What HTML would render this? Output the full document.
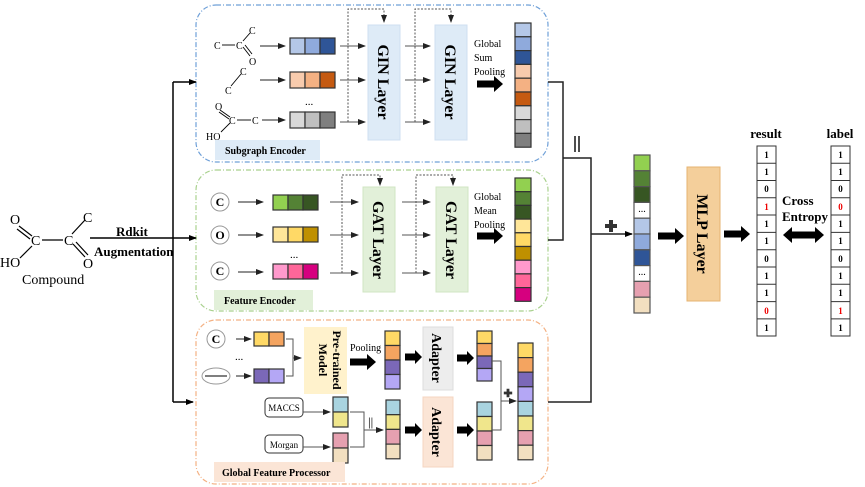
<!DOCTYPE html>
<html><head><meta charset="utf-8"><style>html,body{margin:0;padding:0;background:#fff}svg{display:block}text{font-family:"Liberation Serif",serif}</style></head><body>
<svg width="865" height="487" viewBox="0 0 865 487" xmlns="http://www.w3.org/2000/svg">
<defs>
<marker id="a" markerWidth="8" markerHeight="6" refX="7" refY="3" orient="auto" markerUnits="userSpaceOnUse"><path d="M0,0 L8,3 L0,6 z" fill="#000"/></marker>
<marker id="ag" markerWidth="8" markerHeight="6" refX="7" refY="3" orient="auto" markerUnits="userSpaceOnUse"><path d="M0,0 L8,3 L0,6 z" fill="#222"/></marker>
<g id="big"><path d="M0,-3.5 L17,-3.5 L17,-8 L26,0 L17,8 L17,3.5 L0,3.5 z" fill="#000"/></g>
<g id="mid"><path d="M0,-3.5 L10,-3.5 L10,-7 L17,0 L10,7 L10,3.5 L0,3.5 z" fill="#000"/></g>
<g id="plus"><path d="M-2,-6 H2 V-2 H6 V2 H2 V6 H-2 V2 H-6 V-2 H-2 z" fill="#333"/></g>
</defs>

<rect x="196" y="5" width="352" height="157" rx="20" fill="none" stroke="#6fa0d8" stroke-width="1.2" stroke-dasharray="5,2,1,2"/>
<rect x="196" y="170" width="352" height="141" rx="20" fill="none" stroke="#a9d18e" stroke-width="1.2" stroke-dasharray="5,2,1,2"/>
<rect x="196" y="320" width="352" height="164" rx="20" fill="none" stroke="#f4b183" stroke-width="1.2" stroke-dasharray="5,2,1,2"/>

<g font-size="14" fill="#000">
<text x="10" y="224">O</text><text x="31" y="245">C</text><text x="64" y="245">C</text>
<text x="83" y="222">C</text><text x="83" y="268">O</text><text x="0" y="267">HO</text>
<text x="22" y="284" font-size="14">Compound</text>
</g>
<g stroke="#000" stroke-width="1.2">
<line x1="19" y1="226" x2="32" y2="236"/><line x1="17" y1="229" x2="30" y2="239"/>
<line x1="42" y1="240" x2="63" y2="240"/><line x1="72" y1="234" x2="85" y2="220"/>
<line x1="73" y1="244" x2="85" y2="257"/><line x1="76" y1="242" x2="88" y2="255"/>
<line x1="20" y1="258" x2="32" y2="246"/>
</g>
<line x1="90" y1="238" x2="173" y2="238" stroke="#000" stroke-width="1.5"/>
<text x="116" y="236" font-size="13" font-weight="bold">Rdkit</text>
<text x="94" y="256" font-size="13" font-weight="bold">Augmentation</text>
<line x1="173" y1="82" x2="173" y2="402" stroke="#000" stroke-width="1.5"/>
<g stroke="#000" stroke-width="1.5" marker-end="url(#a)">
<line x1="173" y1="82" x2="196" y2="82"/><line x1="173" y1="238" x2="196" y2="238"/><line x1="173" y1="402" x2="193" y2="402"/>
</g>

<g font-size="10">
<text x="214" y="49">C</text><text x="236" y="49">C</text><text x="249" y="34">C</text><text x="249" y="65">O</text>
<text x="240" y="75">C</text><text x="225" y="94">C</text>
<text x="215" y="110">O</text><text x="229" y="124">C</text><text x="252" y="124">C</text><text x="206" y="140">HO</text>
</g>
<g stroke="#000" stroke-width="0.9">
<line x1="222" y1="45" x2="235" y2="45"/><line x1="243" y1="41" x2="250" y2="33"/><line x1="243" y1="47" x2="250" y2="56"/><line x1="245" y1="45" x2="252" y2="54"/>
<line x1="231" y1="86" x2="241" y2="74"/>
<line x1="220" y1="110" x2="230" y2="117"/><line x1="219" y1="112" x2="229" y2="119"/><line x1="237" y1="120" x2="251" y2="120"/><line x1="221" y1="132" x2="230" y2="123"/>
</g>
<g stroke="#222" stroke-width="1" marker-end="url(#ag)">
<line x1="260" y1="46" x2="285" y2="46"/><line x1="260" y1="80" x2="285" y2="80"/><line x1="262" y1="120" x2="285" y2="120"/>
</g>
<g stroke="#333" stroke-width="1.2">
<rect x="290" y="38" width="15" height="16" fill="#b4c7e7"/><rect x="305" y="38" width="15" height="16" fill="#8faadc"/><rect x="320" y="38" width="15" height="16" fill="#2f5597"/>
<rect x="290" y="72" width="15" height="16" fill="#f8cbad"/><rect x="305" y="72" width="15" height="16" fill="#f4b183"/><rect x="320" y="72" width="15" height="16" fill="#c55a11"/>
<rect x="290" y="112" width="15" height="16" fill="#d9d9d9"/><rect x="305" y="112" width="15" height="16" fill="#bfbfbf"/><rect x="320" y="112" width="15" height="16" fill="#7f7f7f"/>
</g>
<text x="305" y="105" font-size="11">...</text>
<g stroke="#555" stroke-width="1" marker-end="url(#ag)">
<line x1="340" y1="46" x2="365" y2="46"/><line x1="340" y1="80" x2="365" y2="80"/><line x1="340" y1="122" x2="365" y2="122"/>
<line x1="405" y1="46" x2="430" y2="46"/><line x1="405" y1="80" x2="430" y2="80"/><line x1="405" y1="122" x2="430" y2="122"/>
</g>
<g fill="none" stroke="#555" stroke-width="1" stroke-dasharray="2,1.5">
<path d="M348,122 L348,9 L384,9 L384,22" marker-end="url(#ag)"/>
<path d="M415,122 L415,9 L451,9 L451,22" marker-end="url(#ag)"/>
</g>
<rect x="368" y="25" width="32" height="115" fill="#deebf7" stroke="#cfdff0"/>
<rect x="435" y="25" width="32" height="115" fill="#deebf7" stroke="#cfdff0"/>
<text transform="translate(378,82) rotate(90)" text-anchor="middle" font-size="16" font-weight="bold">GIN Layer</text>
<text transform="translate(445,82) rotate(90)" text-anchor="middle" font-size="16" font-weight="bold">GIN Layer</text>
<g font-size="10"><text x="474" y="47">Global</text><text x="474" y="61">Sum</text><text x="474" y="75">Pooling</text></g>
<use href="#big" x="477" y="84"/>
<g stroke="#333" stroke-width="1.2">
<rect x="515" y="23" width="16" height="13.8" fill="#b4c7e7"/><rect x="515" y="36.8" width="16" height="13.8" fill="#8faadc"/><rect x="515" y="50.6" width="16" height="13.8" fill="#2f5597"/>
<rect x="515" y="64.4" width="16" height="13.8" fill="#f8cbad"/><rect x="515" y="78.2" width="16" height="13.8" fill="#f4b183"/><rect x="515" y="92" width="16" height="13.8" fill="#c55a11"/>
<rect x="515" y="105.8" width="16" height="13.8" fill="#d9d9d9"/><rect x="515" y="119.6" width="16" height="13.8" fill="#bfbfbf"/><rect x="515" y="133.4" width="16" height="13.8" fill="#7f7f7f"/>
</g>
<rect x="215" y="140" width="105" height="20" fill="#deebf7"/>
<text x="225" y="154" font-size="10" font-weight="bold">Subgraph Encoder</text>

<g fill="#fff" stroke="#999" stroke-width="1"><circle cx="220" cy="202" r="9"/><circle cx="220" cy="235" r="9"/><circle cx="220" cy="271" r="9"/></g>
<g font-size="12" font-weight="bold" text-anchor="middle"><text x="220" y="206">C</text><text x="220" y="239">O</text><text x="220" y="275">C</text></g>
<g stroke="#222" stroke-width="1" marker-end="url(#ag)">
<line x1="238" y1="202" x2="263" y2="202"/><line x1="238" y1="235" x2="263" y2="235"/><line x1="238" y1="272" x2="263" y2="272"/>
</g>
<g stroke="#333" stroke-width="1.2">
<rect x="273" y="195" width="15" height="15" fill="#92d050"/><rect x="288" y="195" width="15" height="15" fill="#548235"/><rect x="303" y="195" width="15" height="15" fill="#375623"/>
<rect x="273" y="227" width="15" height="15" fill="#ffe699"/><rect x="288" y="227" width="15" height="15" fill="#ffd966"/><rect x="303" y="227" width="15" height="15" fill="#bf9000"/>
<rect x="273" y="264" width="15" height="15" fill="#ff99cc"/><rect x="288" y="264" width="15" height="15" fill="#ff6699"/><rect x="303" y="264" width="15" height="15" fill="#d6007f"/>
</g>
<text x="290" y="258" font-size="11">...</text>
<g stroke="#555" stroke-width="1" marker-end="url(#ag)">
<line x1="330" y1="202" x2="358" y2="202"/><line x1="330" y1="235" x2="358" y2="235"/><line x1="330" y1="273" x2="358" y2="273"/>
<line x1="402" y1="202" x2="430" y2="202"/><line x1="402" y1="235" x2="430" y2="235"/><line x1="402" y1="273" x2="430" y2="273"/>
</g>
<g fill="none" stroke="#555" stroke-width="1" stroke-dasharray="2,1.5">
<path d="M342,273 L342,175 L380,175 L380,185" marker-end="url(#ag)"/>
<path d="M416,273 L416,175 L453,175 L453,185" marker-end="url(#ag)"/>
</g>
<rect x="363" y="187" width="32" height="105" fill="#e2f0d9" stroke="#d0e6c3"/>
<rect x="436" y="187" width="32" height="105" fill="#e2f0d9" stroke="#d0e6c3"/>
<text transform="translate(373,240) rotate(90)" text-anchor="middle" font-size="16" font-weight="bold">GAT Layer</text>
<text transform="translate(446,240) rotate(90)" text-anchor="middle" font-size="16" font-weight="bold">GAT Layer</text>
<g font-size="10"><text x="474" y="200">Global</text><text x="474" y="214">Mean</text><text x="474" y="228">Pooling</text></g>
<use href="#big" x="477" y="236"/>
<g stroke="#333" stroke-width="1.2">
<rect x="515" y="178" width="16" height="13.7" fill="#92d050"/><rect x="515" y="191.7" width="16" height="13.7" fill="#548235"/><rect x="515" y="205.4" width="16" height="13.7" fill="#375623"/>
<rect x="515" y="219.1" width="16" height="13.7" fill="#ffe699"/><rect x="515" y="232.8" width="16" height="13.7" fill="#ffd966"/><rect x="515" y="246.5" width="16" height="13.7" fill="#bf9000"/>
<rect x="515" y="260.2" width="16" height="13.7" fill="#ff99cc"/><rect x="515" y="273.9" width="16" height="13.7" fill="#ff6699"/><rect x="515" y="287.6" width="16" height="13.7" fill="#d6007f"/>
</g>
<rect x="214" y="290" width="99" height="20" fill="#e2f0d9"/>
<text x="224" y="304" font-size="10" font-weight="bold">Feature Encoder</text>

<circle cx="216" cy="339" r="9" fill="#fff" stroke="#999"/>
<text x="216" y="343" font-size="12" font-weight="bold" text-anchor="middle">C</text>
<ellipse cx="216" cy="376" rx="14" ry="8" fill="#fff" stroke="#999"/>
<line x1="205" y1="376" x2="227" y2="376" stroke="#333" stroke-width="1.2"/>
<text x="235" y="360" font-size="11">...</text>
<g stroke="#222" stroke-width="1" marker-end="url(#ag)">
<line x1="236" y1="339" x2="251" y2="339"/><line x1="236" y1="376" x2="251" y2="376"/>
</g>
<g stroke="#333" stroke-width="1.2">
<rect x="254" y="332" width="15" height="14" fill="#ffd966"/><rect x="269" y="332" width="15" height="14" fill="#f4a460"/>
<rect x="254" y="369" width="15" height="14" fill="#7b68b8"/><rect x="269" y="369" width="15" height="14" fill="#b4a7f5"/>
</g>
<path d="M286,339 L293,339 L293,376 L286,376" fill="none" stroke="#555"/>
<line x1="293" y1="358" x2="301" y2="358" stroke="#555" marker-end="url(#ag)"/>
<rect x="304" y="327" width="43" height="67" fill="#fff2cc"/>
<text transform="translate(333,360) rotate(90)" text-anchor="middle" font-size="12" font-weight="bold">Pre-trained</text>
<text transform="translate(319,360) rotate(90)" text-anchor="middle" font-size="12" font-weight="bold">Model</text>
<text x="350" y="351" font-size="10">Pooling</text>
<use href="#big" x="350" y="362"/>
<g stroke="#333" stroke-width="1.2">
<rect x="385" y="331" width="15" height="14.5" fill="#ffd966"/><rect x="385" y="345.5" width="15" height="14.5" fill="#f4a460"/><rect x="385" y="360" width="15" height="14.5" fill="#7b68b8"/><rect x="385" y="374.5" width="15" height="14.5" fill="#b4a7f5"/>
</g>
<use href="#mid" x="405" y="357"/>
<rect x="423" y="327" width="30" height="63" fill="#ededed" stroke="#ddd"/>
<text transform="translate(432,358) rotate(90)" text-anchor="middle" font-size="14" font-weight="bold">Adapter</text>
<use href="#mid" x="457" y="358"/>
<g stroke="#333" stroke-width="1.2">
<rect x="477" y="331" width="15" height="12.5" fill="#ffd966"/><rect x="477" y="343.5" width="15" height="12.5" fill="#f4a460"/><rect x="477" y="356" width="15" height="12.5" fill="#7b68b8"/><rect x="477" y="368.5" width="15" height="12.5" fill="#b4a7f5"/>
</g>
<rect x="265" y="398" width="38" height="19" rx="4" fill="#fff" stroke="#333"/>
<text x="284" y="411" font-size="9" text-anchor="middle">MACCS</text>
<rect x="265" y="435" width="38" height="18" rx="4" fill="#fff" stroke="#333"/>
<text x="284" y="448" font-size="9" text-anchor="middle">Morgan</text>
<g stroke="#555" stroke-width="1" marker-end="url(#ag)">
<line x1="303" y1="412" x2="330" y2="412"/><line x1="303" y1="447" x2="330" y2="447"/>
</g>
<g stroke="#333" stroke-width="1.2">
<rect x="333" y="397" width="15" height="15" fill="#a9d4e0"/><rect x="333" y="412" width="15" height="15" fill="#f0e68c"/>
<rect x="333" y="433" width="15" height="15" fill="#e6a0b0"/><rect x="333" y="448" width="15" height="15" fill="#f2dfc0"/>
</g>
<path d="M350,412 L364,412 L364,447 L350,447" fill="none" stroke="#555"/>
<line x1="364" y1="430" x2="383" y2="430" stroke="#555" marker-end="url(#ag)"/>
<text x="368" y="426" font-size="13">||</text>
<g stroke="#333" stroke-width="1.2">
<rect x="386" y="400" width="14" height="14.7" fill="#a9d4e0"/><rect x="386" y="414.7" width="14" height="14.7" fill="#f0e68c"/><rect x="386" y="429.4" width="14" height="14.7" fill="#e6a0b0"/><rect x="386" y="444.1" width="14" height="14.7" fill="#f2dfc0"/>
</g>
<use href="#mid" x="405" y="430"/>
<rect x="423" y="397" width="30" height="70" fill="#fbe5d6" stroke="#f5d5c0"/>
<text transform="translate(432,432) rotate(90)" text-anchor="middle" font-size="14" font-weight="bold">Adapter</text>
<use href="#mid" x="457" y="430"/>
<g stroke="#333" stroke-width="1.2">
<rect x="477" y="402" width="15" height="14.5" fill="#a9d4e0"/><rect x="477" y="416.5" width="15" height="14.5" fill="#f0e68c"/><rect x="477" y="431" width="15" height="14.5" fill="#e6a0b0"/><rect x="477" y="445.5" width="15" height="14.5" fill="#f2dfc0"/>
</g>
<path d="M492,361 L501,361 L501,430 L492,430" fill="none" stroke="#555"/>
<line x1="501" y1="401" x2="516" y2="401" stroke="#555" marker-end="url(#ag)"/>
<use href="#plus" x="508" y="393" transform="translate(508,393) scale(0.7) translate(-508,-393)"/>
<g stroke="#333" stroke-width="1.2">
<rect x="518" y="343" width="15" height="14.6" fill="#ffd966"/><rect x="518" y="357.6" width="15" height="14.6" fill="#f4a460"/><rect x="518" y="372.2" width="15" height="14.6" fill="#7b68b8"/><rect x="518" y="386.8" width="15" height="14.6" fill="#b4a7f5"/>
<rect x="518" y="401.4" width="15" height="14.6" fill="#a9d4e0"/><rect x="518" y="416" width="15" height="14.6" fill="#f0e68c"/><rect x="518" y="430.6" width="15" height="14.6" fill="#e6a0b0"/><rect x="518" y="445.2" width="15" height="14.6" fill="#f2dfc0"/>
</g>
<rect x="214" y="462" width="131" height="20" fill="#fbe5d6"/>
<text x="222" y="476" font-size="10" font-weight="bold">Global Feature Processor</text>

<g fill="none" stroke="#222" stroke-width="1.5">
<path d="M548,82 L563,82 L563,240 L548,240"/>
<path d="M563,158 L591,158 L591,402 L548,402"/>
</g>
<line x1="591" y1="234" x2="632" y2="234" stroke="#222" stroke-width="1.5" marker-end="url(#a)"/>
<g stroke="#222" stroke-width="1.6"><line x1="575" y1="136" x2="575" y2="152"/><line x1="579" y1="136" x2="579" y2="152"/></g>
<use href="#plus" x="611" y="226"/>
<g stroke="#555" stroke-width="1.2">
<rect x="634" y="155" width="16" height="15.8" fill="#92d050"/><rect x="634" y="170.8" width="16" height="15.8" fill="#548235"/><rect x="634" y="186.6" width="16" height="15.8" fill="#375623"/>
<rect x="634" y="202.4" width="16" height="15.8" fill="#fff"/><rect x="634" y="218.2" width="16" height="15.8" fill="#b4c7e7"/><rect x="634" y="234" width="16" height="15.8" fill="#8faadc"/>
<rect x="634" y="249.8" width="16" height="15.8" fill="#2f5597"/><rect x="634" y="265.6" width="16" height="15.8" fill="#fff"/><rect x="634" y="281.4" width="16" height="15.8" fill="#e6a0b0"/><rect x="634" y="297.2" width="16" height="15.8" fill="#f2dfc0"/>
</g>
<text x="642" y="212" font-size="10" text-anchor="middle">...</text>
<text x="642" y="275" font-size="10" text-anchor="middle">...</text>
<use href="#big" x="658" y="236"/>
<rect x="687" y="167" width="33" height="134" fill="#f4cf9b" stroke="#e6b370"/>
<text transform="translate(697,234) rotate(90)" text-anchor="middle" font-size="16" font-weight="bold">MLP Layer</text>
<use href="#big" x="724" y="234"/>

<text x="766" y="138" font-size="13" font-weight="bold" text-anchor="middle">result</text>
<text x="840" y="138" font-size="13" font-weight="bold" text-anchor="middle">label</text>
<g stroke="#333" stroke-width="1" fill="#fff">
<rect x="757" y="146" width="19" height="190"/><rect x="831" y="146" width="19" height="190"/>
<path d="M757,163.3H776M757,180.5H776M757,197.8H776M757,215H776M757,232.4H776M757,249.7H776M757,267H776M757,284.3H776M757,301.6H776M757,318.9H776"/>
<path d="M831,163.3H850M831,180.5H850M831,197.8H850M831,215H850M831,232.4H850M831,249.7H850M831,267H850M831,284.3H850M831,301.6H850M831,318.9H850"/>
</g>
<g font-size="9" font-weight="bold" text-anchor="middle">
<text x="766.5" y="158">1</text><text x="766.5" y="175">1</text><text x="766.5" y="192">0</text><text x="766.5" y="210" fill="#e00">1</text><text x="766.5" y="227">1</text><text x="766.5" y="244">1</text><text x="766.5" y="262">0</text><text x="766.5" y="279">1</text><text x="766.5" y="296">1</text><text x="766.5" y="314" fill="#e00">0</text><text x="766.5" y="331">1</text>
<text x="840.5" y="158">1</text><text x="840.5" y="175">1</text><text x="840.5" y="192">0</text><text x="840.5" y="210" fill="#e00">0</text><text x="840.5" y="227">1</text><text x="840.5" y="244">1</text><text x="840.5" y="262">0</text><text x="840.5" y="279">1</text><text x="840.5" y="296">1</text><text x="840.5" y="314" fill="#e00">1</text><text x="840.5" y="331">1</text>
</g>
<text x="782" y="205" font-size="13" font-weight="bold">Cross</text>
<text x="782" y="221" font-size="13" font-weight="bold">Entropy</text>
<path d="M783,235 L792,227 L792,231.5 L815,231.5 L815,227 L824,235 L815,243 L815,238.5 L792,238.5 L792,243 z" fill="#000"/>
</svg>
</body></html>
